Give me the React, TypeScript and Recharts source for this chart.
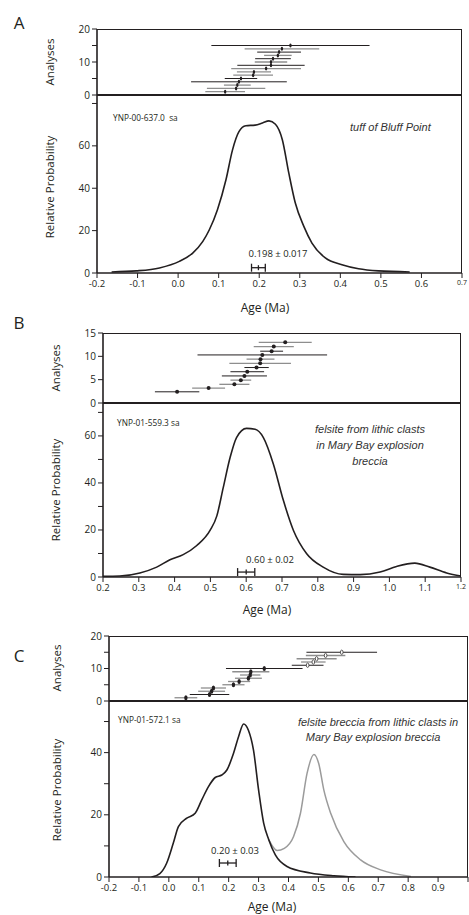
import { ComposedChart, Scatter, Line, XAxis, YAxis, ErrorBar } from "recharts"

const INK = "#231f20"
const GREY = "#8e8e8e"
const FONT = "'Open Sans', 'Noto Sans', sans-serif"
const IFONT = "'Liberation Sans', Arial, sans-serif"
const W = 469
const AXIS_W = 40

// ---- panel A: tuff of Bluff Point
const aRows = [1, 2, 3, 4, 5, 6, 7, 8, 9, 10, 11, 12, 13, 14, 15]
const aAges = [0.116, 0.143, 0.146, 0.15, 0.155, 0.185, 0.187, 0.217, 0.229, 0.229, 0.234, 0.246, 0.249, 0.256, 0.277]
const aErrs = [0.049, 0.072, 0.033, 0.118, 0.04, 0.049, 0.042, 0.086, 0.083, 0.04, 0.044, 0.034, 0.054, 0.092, 0.195]
const aDark = [0, 0, 0, 1, 1, 0, 0, 0, 1, 0, 1, 0, 1, 0, 1]
const aCurveAge = [-0.164, -0.103, -0.046, 0.003, 0.036, 0.061, 0.077, 0.097, 0.118, 0.134, 0.15, 0.167, 0.19, 0.208, 0.224, 0.24, 0.257, 0.273, 0.289, 0.31, 0.33, 0.363, 0.404, 0.445, 0.494, 0.571]
const aCurveProb = [0.5, 1, 2.4, 5.5, 9.4, 14.9, 20.4, 29.9, 44, 58, 66.7, 69.5, 69.8, 70.8, 71.8, 70.2, 62.9, 47.1, 33, 22, 14.1, 7.1, 3.9, 2, 1, 0.5]
const aMean = { age: 0.198, p: 2.5, err: 0.017 }
const aXTicks = [-0.2, -0.1, 0, 0.1, 0.2, 0.3, 0.4, 0.5, 0.6, 0.7]

// ---- panel B: felsite, Mary Bay
const bRows = [2.4, 3.2, 4.0, 4.9, 5.8, 6.7, 7.6, 8.5, 9.4, 10.3, 11.1, 12.1, 13.0]
const bAges = [0.407, 0.495, 0.567, 0.585, 0.595, 0.603, 0.629, 0.639, 0.64, 0.645, 0.671, 0.677, 0.709]
const bErrs = [0.062, 0.046, 0.042, 0.029, 0.063, 0.047, 0.034, 0.086, 0.039, 0.181, 0.032, 0.056, 0.074]
const bDark = [1, 0, 0, 0, 1, 1, 1, 0, 0, 1, 1, 0, 0]
const bCurveAge = [0.2, 0.247, 0.303, 0.35, 0.387, 0.424, 0.462, 0.499, 0.518, 0.536, 0.555, 0.573, 0.601, 0.625, 0.648, 0.676, 0.704, 0.732, 0.769, 0.815, 0.871, 0.918, 0.974, 1.02, 1.071, 1.113, 1.16, 1.2]
const bCurveProb = [0.3, 0.4, 1.7, 4.2, 7.3, 9.5, 13.4, 19.8, 26, 38.1, 50.8, 59.3, 63.2, 62.8, 59.3, 48, 32.5, 19.8, 9.9, 4.2, 1.1, 1.0, 2.1, 4.5, 5.9, 4.2, 1.7, 0.4]
const bMean = { age: 0.6, p: 2.1, err: 0.024 }
const bXTicks = [0.2, 0.3, 0.4, 0.5, 0.6, 0.7, 0.8, 0.9, 1.0, 1.1, 1.2]

// ---- panel C: felsite breccia, two populations
const cRows = [1, 2, 3, 4, 5, 6, 7, 8, 9, 10, 11, 12, 13, 14, 15]
const cAges = [0.057, 0.136, 0.143, 0.149, 0.216, 0.235, 0.266, 0.272, 0.274, 0.319, 0.464, 0.483, 0.494, 0.524, 0.578]
const cErrs = [0.038, 0.066, 0.045, 0.042, 0.037, 0.037, 0.045, 0.034, 0.062, 0.128, 0.053, 0.041, 0.067, 0.066, 0.118]
const cDark = [0, 1, 0, 0, 0, 0, 0, 0, 0, 1, 1, 0, 0, 0, 1]
const cOpen = [0, 0, 0, 0, 0, 0, 0, 0, 0, 0, 1, 1, 1, 1, 1]
const cCurveAge = [-0.058, -0.03, -0.007, 0.015, 0.032, 0.06, 0.088, 0.11, 0.132, 0.155, 0.177, 0.194, 0.216, 0.233, 0.25, 0.266, 0.283, 0.3, 0.317, 0.334, 0.356, 0.395, 0.473, 0.552, 0.624]
const cCurveProb = [0, 1.1, 4.5, 10.9, 16.2, 18.9, 20.5, 24.8, 29, 32, 32.8, 34.4, 39.7, 45.1, 49.2, 47.2, 40.8, 28, 17.3, 12, 7.1, 3.4, 1.3, 0.4, 0]
const cOldAge = [0.334, 0.362, 0.386, 0.417, 0.44, 0.462, 0.485, 0.501, 0.518, 0.541, 0.585, 0.641, 0.708, 0.809]
const cOldProb = [12, 8.5, 9.2, 13, 20.5, 33.3, 39.4, 36.5, 28, 20.5, 11.4, 5.5, 2.3, 0.2]
const cMean = { age: 0.197, p: 4.5, err: 0.028 }
const cXTicks = [-0.2, -0.1, 0, 0.1, 0.2, 0.3, 0.4, 0.5, 0.6, 0.7, 0.8, 0.9, 1.0]

type Geo = { left: number; right: number; aTop: number; mid: number; bottom: number }

const toPts = (ages: number[], probs: number[]) => ages.map((age, i) => ({ age, p: probs[i] }))

function yTick(labels: number[]) {
  return (p: any) => {
    const v = p.payload.value
    if (!labels.includes(v)) return <g />
    return (
      <text x={p.x} y={p.y} dy="0.35em" textAnchor="end" fontSize={10} fontFamily={FONT} fill={INK}>
        {v}
      </text>
    )
  }
}

function xTick(last: "small" | "none") {
  return (p: any) => {
    const v: number = p.payload.value
    const isLast = p.index === p.visibleTicksCount - 1
    if (isLast && last === "none") return <g />
    return (
      <text x={p.x} y={p.y} dy="0.71em" textAnchor="middle" fontSize={isLast ? 7 : 9.5} fontFamily={FONT} fill={INK}>
        {v.toFixed(1)}
      </text>
    )
  }
}

function Analyses(props: {
  geo: Geo; xDomain: number[]; xTicks: number[]; yDomain: number[]; yTicks: number[]; yLabels: number[]
  rows: number[]; ages: number[]; errs: number[]; dark: number[]; open?: number[]; dot: number[]; tickDown?: boolean
}) {
  const { geo } = props
  const data = props.rows.map((row, i) => ({
    row, age: props.ages[i], err: props.errs[i], dark: props.dark[i] === 1, open: props.open ? props.open[i] === 1 : false,
  }))
  const top = geo.aTop - 10
  const height = geo.mid + 10 - top
  const shape = (p: any) =>
    p.payload.open ? (
      <ellipse cx={p.cx} cy={p.cy} rx={1.3} ry={2.2} fill="#fff" stroke={INK} strokeWidth={0.7} />
    ) : (
      <ellipse cx={p.cx} cy={p.cy} rx={props.dot[0]} ry={props.dot[1]} fill={INK} />
    )
  return (
    <div style={{ position: "absolute", left: 0, top }}>
      <ComposedChart width={W} height={height} margin={{ top: 10, right: W - geo.right, bottom: 0, left: geo.left - AXIS_W }}>
        <XAxis dataKey="age" type="number" domain={props.xDomain} ticks={props.xTicks} interval={0} allowDataOverflow
          height={10} tick={false} tickSize={5} tickLine={props.tickDown ? { stroke: INK } : false}
          axisLine={{ stroke: INK, strokeWidth: 2 }} />
        <YAxis type="number" domain={props.yDomain} ticks={props.yTicks} interval={0} allowDataOverflow width={AXIS_W}
          tick={yTick(props.yLabels)} tickSize={5} tickMargin={2} tickLine={{ stroke: INK }}
          axisLine={{ stroke: INK, strokeWidth: 1.6 }} />
        <Scatter data={data.filter((d) => !d.dark)} dataKey="row" shape={shape} isAnimationActive={false}>
          <ErrorBar dataKey="err" direction="x" width={0} stroke={GREY} strokeWidth={1.3} />
        </Scatter>
        <Scatter data={data.filter((d) => d.dark)} dataKey="row" shape={shape} isAnimationActive={false}>
          <ErrorBar dataKey="err" direction="x" width={0} stroke={INK} strokeWidth={1} />
        </Scatter>
      </ComposedChart>
    </div>
  )
}

function Prob(props: {
  geo: Geo; xDomain: number[]; xTicks: number[]; yDomain: number[]; yTicks: number[]; yLabels: number[]
  curve: { age: number; p: number }[]; old?: { age: number; p: number }[]; mean: { age: number; p: number; err: number }
  last: "small" | "none"
}) {
  const { geo } = props
  const top = geo.mid - 10
  const height = geo.bottom + 30 - top
  const meanShape = (p: any) => (
    <line x1={p.cx} x2={p.cx} y1={p.cy - 2.5} y2={p.cy + 2.5} stroke={INK} strokeWidth={1.3} />
  )
  return (
    <div style={{ position: "absolute", left: 0, top }}>
      <ComposedChart width={W} height={height} margin={{ top: 10, right: W - geo.right, bottom: 10, left: geo.left - AXIS_W }}>
        <XAxis dataKey="age" type="number" domain={props.xDomain} ticks={props.xTicks} interval={0} allowDataOverflow
          height={20} tick={xTick(props.last)} tickSize={5} tickMargin={2} tickLine={{ stroke: INK }}
          axisLine={{ stroke: INK, strokeWidth: 1.6 }} />
        <YAxis type="number" domain={props.yDomain} ticks={props.yTicks} interval={0} allowDataOverflow width={AXIS_W}
          tick={yTick(props.yLabels)} tickSize={5} tickMargin={2} tickLine={{ stroke: INK }}
          axisLine={{ stroke: INK, strokeWidth: 1.6 }} />
        {props.old && (
          <Line data={props.old} dataKey="p" type="monotone" stroke="#9b9b9b" strokeWidth={1.5} dot={false} isAnimationActive={false} />
        )}
        <Line data={props.curve} dataKey="p" type="monotone" stroke={INK} strokeWidth={1.6} dot={false} isAnimationActive={false} />
        <Scatter data={[props.mean]} dataKey="p" shape={meanShape} isAnimationActive={false}>
          <ErrorBar dataKey="err" direction="x" width={4} stroke={INK} strokeWidth={1.3} />
        </Scatter>
      </ComposedChart>
    </div>
  )
}

function Box({ geo }: { geo: Geo }) {
  return (
    <div style={{
      position: "absolute", left: geo.left, top: geo.aTop, width: geo.right - geo.left, height: geo.bottom - geo.aTop,
      borderTop: `1px solid ${INK}`, borderRight: `1px solid ${INK}`, boxSizing: "border-box", pointerEvents: "none",
    }} />
  )
}

function T(props: { x: number; y: number; size: number; text: string; italic?: boolean; start?: boolean; color?: string; font?: string }) {
  const tx = props.start ? "0" : "-50%"
  return (
    <div style={{
      position: "absolute", left: props.x, top: props.y, whiteSpace: "pre", lineHeight: 1,
      transform: `translate(${tx}, -50%)`,
      fontSize: props.size, fontStyle: props.italic ? "italic" : "normal", fontFamily: props.font ?? FONT, color: props.color ?? INK,
    }}>
      {props.text}
    </div>
  )
}

function VT({ x, y, size, text }: { x: number; y: number; size: number; text: string }) {
  return (
    <div style={{ position: "absolute", left: x, top: y, width: 0, height: 0 }}>
      <div style={{
        position: "absolute", left: 0, top: 0, whiteSpace: "nowrap", lineHeight: 1, fontSize: size, fontFamily: FONT, color: INK,
        transform: "translate(-50%, -50%) rotate(-90deg)",
      }}>
        {text}
      </div>
    </div>
  )
}

const geoA: Geo = { left: 97, right: 462, aTop: 29, mid: 95, bottom: 273 }
const geoB: Geo = { left: 103, right: 461, aTop: 333, mid: 403, bottom: 577 }
const geoC: Geo = { left: 109, right: 468, aTop: 636, mid: 701, bottom: 877 }

export default function App() {
  return (
    <div style={{ position: "absolute", left: 0, top: 0, width: W, height: 915, background: "#fff", overflow: "hidden" }}>
      {/* A */}
      <Analyses geo={geoA} xDomain={[-0.2, 0.7]} xTicks={aXTicks} yDomain={[0, 20]} yTicks={[0, 5, 10, 15, 20]} yLabels={[0, 10, 20]}
        rows={aRows} ages={aAges} errs={aErrs} dark={aDark} dot={[1.2, 2]} />
      <Prob geo={geoA} xDomain={[-0.2, 0.7]} xTicks={aXTicks} yDomain={[0, 84]} yTicks={[0, 20, 40, 60, 80]} yLabels={[0, 20, 40, 60]}
        curve={toPts(aCurveAge, aCurveProb)} mean={aMean} last="small" />
      <Box geo={geoA} />
      <T x={19} y={22} size={17} text="A" />
      <VT x={50} y={62} size={11.5} text="Analyses" />
      <VT x={50} y={187} size={11.5} text="Relative Probability" />
      <T x={113} y={118} size={8.3} start text="YNP-00-637.0  sa" />
      <T x={350} y={127} size={11} start italic font={IFONT} color="#333" text="tuff of Bluff Point" />
      <T x={278} y={254} size={9.5} text="0.198 ± 0.017" />
      <T x={265} y={308} size={12} text="Age (Ma)" />

      {/* B */}
      <Analyses geo={geoB} xDomain={[0.2, 1.2]} xTicks={bXTicks} yDomain={[0, 15]} yTicks={[0, 5, 10, 15]} yLabels={[0, 5, 10, 15]}
        rows={bRows} ages={bAges} errs={bErrs} dark={bDark} dot={[2, 2]} />
      <Prob geo={geoB} xDomain={[0.2, 1.2]} xTicks={bXTicks} yDomain={[0, 74]} yTicks={[0, 10, 20, 30, 40, 50, 60, 70]} yLabels={[0, 20, 40, 60]}
        curve={toPts(bCurveAge, bCurveProb)} mean={bMean} last="small" />
      <Box geo={geoB} />
      <T x={19} y={322} size={17} text="B" />
      <VT x={56} y={368} size={11.5} text="Analyses" />
      <VT x={56} y={490} size={11.5} text="Relative Probability" />
      <T x={117} y={423} size={8.3} start text="YNP-01-559.3 sa" />
      <T x={370} y={429} size={11} italic font={IFONT} color="#333" text="felsite from lithic clasts" />
      <T x={370} y={445} size={11} italic font={IFONT} color="#333" text="in Mary Bay explosion" />
      <T x={370} y={461} size={11} italic font={IFONT} color="#333" text="breccia" />
      <T x={270} y={560} size={9.5} text="0.60 ± 0.02" />
      <T x={267} y={610} size={12} text="Age (Ma)" />

      {/* C */}
      <Analyses geo={geoC} xDomain={[-0.2, 1.0]} xTicks={cXTicks} yDomain={[0, 20]} yTicks={[0, 5, 10, 15, 20]} yLabels={[0, 10, 20]}
        rows={cRows} ages={cAges} errs={cErrs} dark={cDark} open={cOpen} dot={[1.7, 2.5]} tickDown />
      <Prob geo={geoC} xDomain={[-0.2, 1.0]} xTicks={cXTicks} yDomain={[0, 56.6]} yTicks={[0, 10, 20, 30, 40, 50]} yLabels={[0, 20, 40]}
        curve={toPts(cCurveAge, cCurveProb)} old={toPts(cOldAge, cOldProb)} mean={cMean} last="none" />
      <Box geo={geoC} />
      <T x={19} y={655} size={17} text="C" />
      <VT x={57} y={668} size={11.5} text="Analyses" />
      <VT x={57} y={790} size={11.5} text="Relative Probability" />
      <T x={118} y={720} size={8.3} start text="YNP-01-572.1 sa" />
      <T x={378} y={722} size={11} italic font={IFONT} color="#333" text="felsite breccia from lithic clasts in" />
      <T x={373} y={737} size={11} italic font={IFONT} color="#333" text="Mary Bay explosion breccia" />
      <T x={235} y={851} size={9.5} text="0.20 ± 0.03" />
      <T x={272} y={907} size={12} text="Age (Ma)" />
    </div>
  )
}
